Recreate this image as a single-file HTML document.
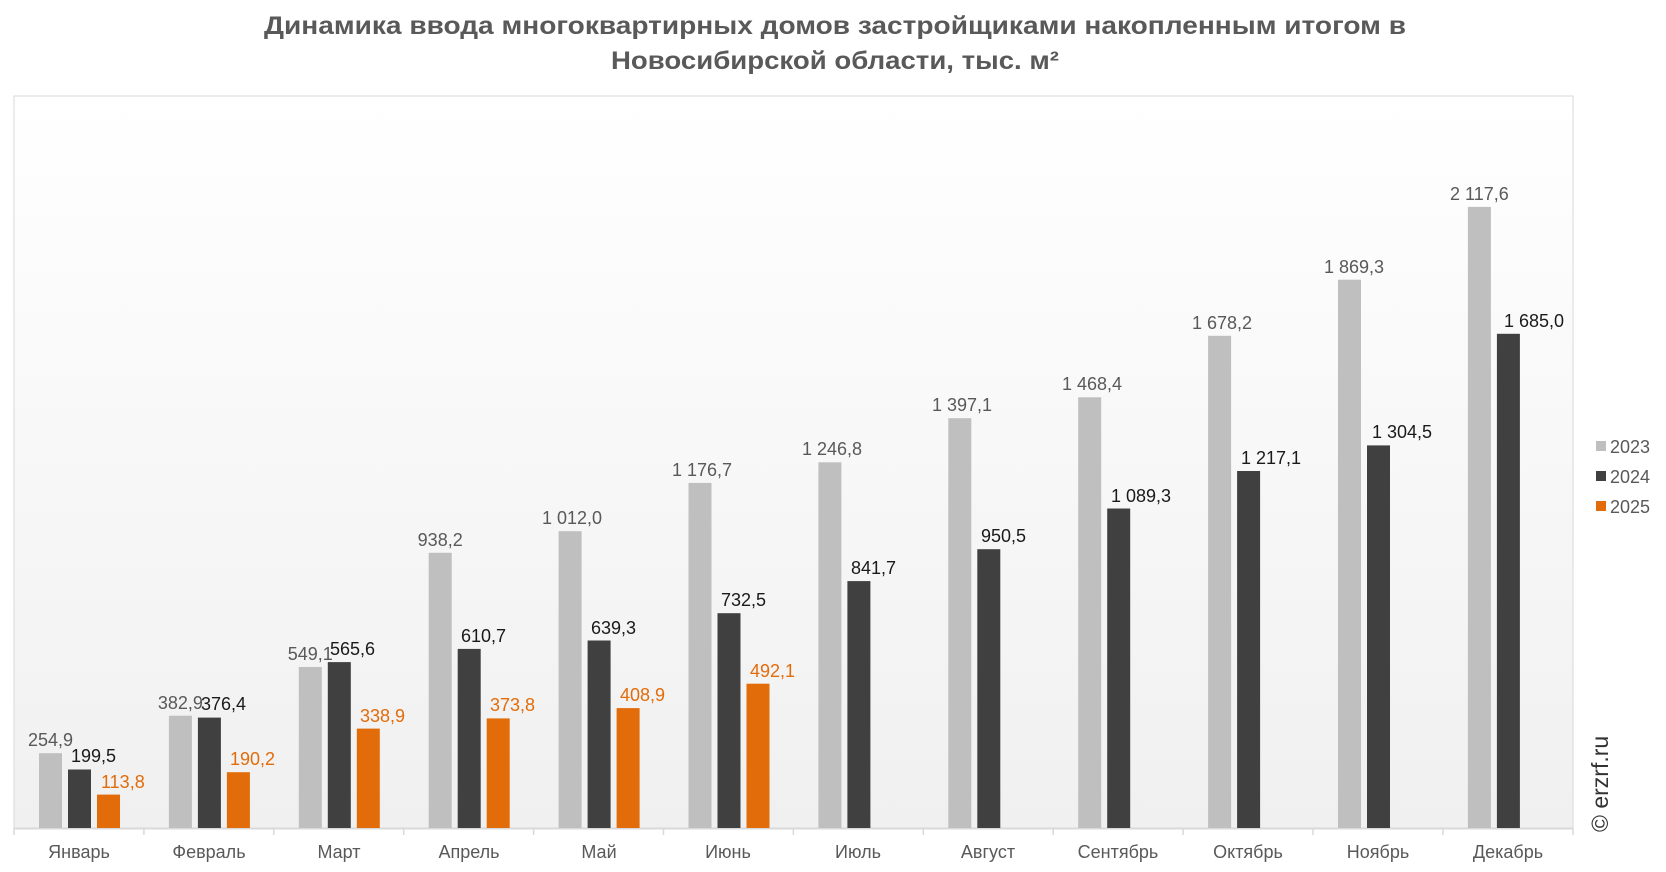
<!DOCTYPE html>
<html><head><meta charset="utf-8"><style>
html,body{margin:0;padding:0;background:#fff;}
svg{display:block;font-family:"Liberation Sans",sans-serif;}
</style></head><body>
<svg width="1666" height="872" viewBox="0 0 1666 872" xmlns="http://www.w3.org/2000/svg">
<defs><linearGradient id="bg" x1="0" y1="0" x2="0" y2="1"><stop offset="0" stop-color="#ffffff"/><stop offset="1" stop-color="#f0f0f0"/></linearGradient></defs>
<text x="835" y="34" text-anchor="middle" font-size="25" font-weight="bold" fill="#595959" textLength="1142" lengthAdjust="spacingAndGlyphs">Динамика ввода многоквартирных домов застройщиками накопленным итогом в</text>
<text x="835" y="69" text-anchor="middle" font-size="25" font-weight="bold" fill="#595959" textLength="448" lengthAdjust="spacingAndGlyphs">Новосибирской области, тыс. м²</text>
<rect x="14" y="96" width="1559" height="732" fill="url(#bg)" stroke="#d9d9d9" stroke-width="1"/>
<line x1="14" y1="828.5" x2="1573" y2="828.5" stroke="#d9d9d9" stroke-width="2"/>
<g stroke="#d9d9d9" stroke-width="1.5">
<line x1="14" y1="828" x2="14" y2="835"/><line x1="143.9" y1="828" x2="143.9" y2="835"/><line x1="273.8" y1="828" x2="273.8" y2="835"/><line x1="403.7" y1="828" x2="403.7" y2="835"/><line x1="533.6" y1="828" x2="533.6" y2="835"/><line x1="663.5" y1="828" x2="663.5" y2="835"/><line x1="793.4" y1="828" x2="793.4" y2="835"/><line x1="923.3" y1="828" x2="923.3" y2="835"/><line x1="1053.2" y1="828" x2="1053.2" y2="835"/><line x1="1183.1" y1="828" x2="1183.1" y2="835"/><line x1="1313" y1="828" x2="1313" y2="835"/><line x1="1442.9" y1="828" x2="1442.9" y2="835"/><line x1="1573" y1="828" x2="1573" y2="835"/>
</g>
<g fill="#bfbfbf">
<rect x="39" y="753.2" width="23" height="74.8"/><rect x="168.9" y="715.7" width="23" height="112.3"/><rect x="298.8" y="667" width="23" height="161"/><rect x="428.7" y="552.8" width="23" height="275.2"/><rect x="558.6" y="531.2" width="23" height="296.8"/><rect x="688.5" y="482.9" width="23" height="345.1"/><rect x="818.4" y="462.3" width="23" height="365.7"/><rect x="948.3" y="418.2" width="23" height="409.8"/><rect x="1078.2" y="397.3" width="23" height="430.7"/><rect x="1208.1" y="335.8" width="23" height="492.2"/><rect x="1338" y="279.7" width="23" height="548.3"/><rect x="1467.9" y="206.9" width="23" height="621.1"/>
</g>
<g fill="#404040">
<rect x="68" y="769.5" width="23" height="58.5"/><rect x="197.9" y="717.6" width="23" height="110.4"/><rect x="327.8" y="662.1" width="23" height="165.9"/><rect x="457.7" y="648.9" width="23" height="179.1"/><rect x="587.6" y="640.5" width="23" height="187.5"/><rect x="717.5" y="613.2" width="23" height="214.8"/><rect x="847.4" y="581.1" width="23" height="246.9"/><rect x="977.3" y="549.2" width="23" height="278.8"/><rect x="1107.2" y="508.5" width="23" height="319.5"/><rect x="1237.1" y="471" width="23" height="357"/><rect x="1367" y="445.4" width="23" height="382.6"/><rect x="1496.9" y="333.8" width="23" height="494.2"/>
</g>
<g fill="#e36c0a">
<rect x="97" y="794.6" width="23" height="33.4"/><rect x="226.9" y="772.2" width="23" height="55.8"/><rect x="356.8" y="728.6" width="23" height="99.4"/><rect x="486.7" y="718.4" width="23" height="109.6"/><rect x="616.6" y="708.1" width="23" height="119.9"/><rect x="746.5" y="683.7" width="23" height="144.3"/>
</g>
<g font-size="18" text-anchor="middle" fill="#595959">
<text x="50.5" y="746">254,9</text><text x="180.4" y="709">382,9</text><text x="310.3" y="660">549,1</text><text x="440.2" y="546">938,2</text><text x="572" y="524">1 012,0</text><text x="702" y="476">1 176,7</text><text x="832" y="455">1 246,8</text><text x="962" y="411">1 397,1</text><text x="1092" y="390">1 468,4</text><text x="1222" y="329">1 678,2</text><text x="1354" y="273">1 869,3</text><text x="1479.4" y="200">2 117,6</text>
</g>
<g font-size="18" fill="#1a1a1a">
<text x="71" y="762">199,5</text><text x="201" y="710">376,4</text><text x="330" y="655">565,6</text><text x="461" y="642">610,7</text><text x="591" y="634">639,3</text><text x="721" y="606">732,5</text><text x="851" y="574">841,7</text><text x="981" y="542">950,5</text><text x="1111" y="502">1 089,3</text><text x="1241" y="464">1 217,1</text><text x="1372" y="438">1 304,5</text><text x="1504" y="327">1 685,0</text>
</g>
<g font-size="18" fill="#e36c0a">
<text x="101" y="788">113,8</text><text x="230" y="765">190,2</text><text x="360" y="722">338,9</text><text x="490" y="711">373,8</text><text x="620" y="701">408,9</text><text x="750" y="677">492,1</text>
</g>
<g font-size="18" text-anchor="middle" fill="#595959">
<text x="79" y="858">Январь</text><text x="209" y="858">Февраль</text><text x="339" y="858">Март</text><text x="469" y="858">Апрель</text><text x="599" y="858">Май</text><text x="728" y="858">Июнь</text><text x="858" y="858">Июль</text><text x="988" y="858">Август</text><text x="1118" y="858">Сентябрь</text><text x="1248" y="858">Октябрь</text><text x="1378" y="858">Ноябрь</text><text x="1508" y="858">Декабрь</text>
</g>
<rect x="1596" y="441" width="10" height="10" fill="#bfbfbf"/>
<rect x="1596" y="471" width="10" height="10" fill="#404040"/>
<rect x="1596" y="501" width="10" height="10" fill="#e36c0a"/>
<g font-size="18" fill="#595959">
<text x="1610" y="453">2023</text><text x="1610" y="483">2024</text><text x="1610" y="513">2025</text>
</g>
<text transform="translate(1608,832) rotate(-90)" font-size="23" fill="#333">© erzrf.ru</text>
</svg>
</body></html>
